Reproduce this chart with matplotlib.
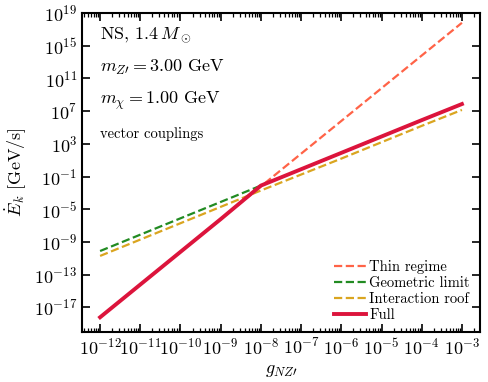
import numpy as np
import matplotlib
matplotlib.use("Agg")
import matplotlib.pyplot as plt
from matplotlib.ticker import LogLocator, NullLocator

plt.rcParams['font.family'] = 'serif'
plt.rcParams['font.serif'] = ['cmr10']
plt.rcParams['mathtext.fontset'] = 'cm'
plt.rcParams['axes.formatter.use_mathtext'] = True
plt.rcParams['axes.unicode_minus'] = False

# log10 of coupling
log_g = [-12, -11, -10, -9, -8, -7, -6, -5, -4, -3]
# log10 of energy rate in GeV/s
thin = [-18.2, -14.2, -10.2, -6.2, -2.2, 1.8, 5.8, 9.8, 13.8, 17.8]
roof = [-10.7, -8.7, -6.7, -4.7, -2.7, -0.75, 1.2, 3.2, 5.2, 7.15]
full = [-18.2, -14.2, -10.2, -6.2, -2.1, -0.1, 1.9, 3.9, 5.9, 7.87]
log_g_geo = [-12, -11, -10, -9, -8]
geo = [-10.1, -8.1, -6.1, -4.1, -2.1]

g = 10.0 ** np.array(log_g)
g_geo = 10.0 ** np.array(log_g_geo)

fig = plt.figure(figsize=(4.89, 3.82), dpi=100)
ax = fig.add_axes([82/489, 1 - 332/382, (480-82)/489, (332-13)/382])

ax.plot(g, 10.0 ** np.array(thin), '--', color='tomato', lw=1.6, label='Thin regime')
ax.plot(g_geo, 10.0 ** np.array(geo), '--', color='forestgreen', lw=1.6, label='Geometric limit')
ax.plot(g, 10.0 ** np.array(roof), '--', color='goldenrod', lw=1.6, label='Interaction roof')
ax.plot(g, 10.0 ** np.array(full), '-', color='crimson', lw=2.8, label='Full')

ax.set_xscale('log')
ax.set_yscale('log')
ax.set_xlim(10**-12.45, 10**-2.55)
ax.set_ylim(1e-20, 1e19)
ax.set_xticks([10.0**k for k in range(-12, -2)])
ax.xaxis.set_minor_locator(LogLocator(base=10, subs=np.arange(2, 10), numticks=100))
ax.set_yticks([10.0**k for k in range(19, -20, -4)])
ax.yaxis.set_minor_locator(NullLocator())

for s in ax.spines.values():
    s.set_linewidth(1.5)
ax.tick_params(which='both', direction='in', top=True, right=True, labelsize=13)
ax.tick_params(which='major', length=6, width=1.2)
ax.tick_params(which='minor', length=3, width=0.9)

ax.set_xlabel(r'$g_{NZ\prime}$', fontsize=13)
ax.set_ylabel(r'$\dot{E}_k$ [GeV/s]', fontsize=13)

ax.text(0.045, 0.93, r'NS, $1.4\,M_\odot$', transform=ax.transAxes, fontsize=13, va='center')
ax.text(0.045, 0.83, r'$m_{Z\prime} = 3.00$ GeV', transform=ax.transAxes, fontsize=13, va='center')
ax.text(0.045, 0.725, r'$m_\chi = 1.00$ GeV', transform=ax.transAxes, fontsize=13, va='center')
ax.text(0.045, 0.62, 'vector couplings', transform=ax.transAxes, fontsize=10.5, va='center')

ax.legend(loc='lower right', frameon=False, fontsize=10.5, handlelength=2.2,
          handletextpad=0.2, labelspacing=0.15, borderaxespad=0.3)

fig.savefig('out.png', dpi=100)
